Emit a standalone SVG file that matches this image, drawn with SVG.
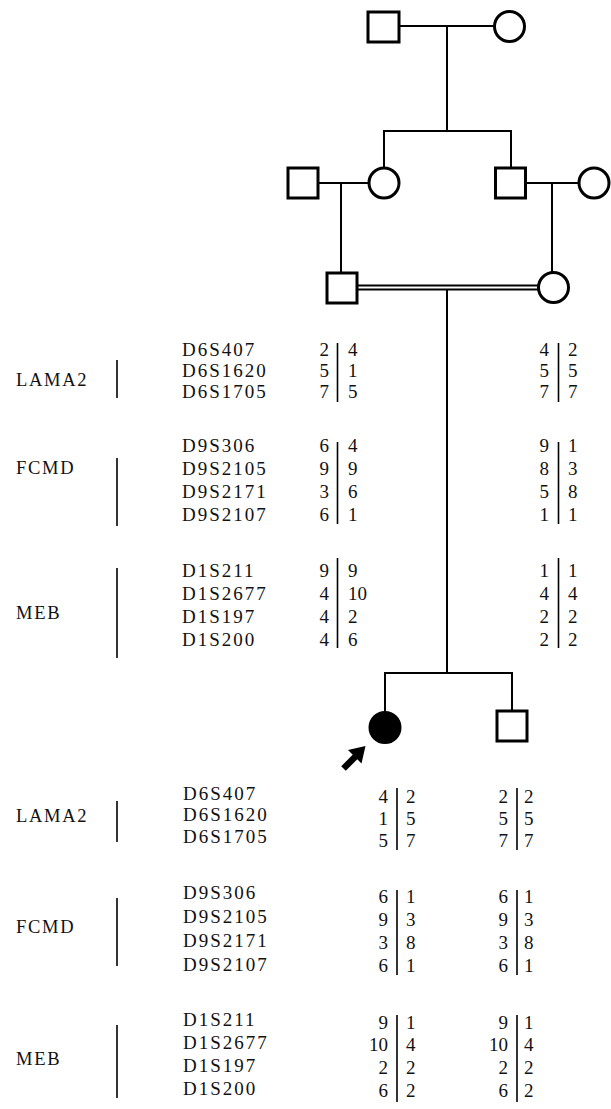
<svg xmlns="http://www.w3.org/2000/svg" width="611" height="1109" viewBox="0 0 611 1109">
<style>
.sym{fill:#fff;stroke:#000;stroke-width:3}
.aff{fill:#000;stroke:#000;stroke-width:2}
.ln{fill:none;stroke:#000;stroke-width:2}
.bar{fill:none;stroke:#000;stroke-width:1.6}
text{font-family:"Liberation Serif","Times New Roman",serif;font-size:19px;fill:#111}
.gene{font-size:18.5px;letter-spacing:1.7px}
.mk{letter-spacing:2px}
.l{text-anchor:end}
</style>
<g id="connectors">
<line class="ln" x1="399" y1="26" x2="494" y2="26"/>
<line class="ln" x1="447" y1="26" x2="447" y2="131"/>
<polyline class="ln" points="384,168 384,131 511,131 511,168"/>
<line class="ln" x1="318" y1="183" x2="368" y2="183"/>
<line class="ln" x1="341" y1="183" x2="341" y2="273"/>
<line class="ln" x1="525" y1="183" x2="579" y2="183"/>
<line class="ln" x1="552" y1="183" x2="552" y2="272"/>
<line class="ln" x1="357" y1="285.5" x2="539" y2="285.5"/>
<line class="ln" x1="357" y1="289.5" x2="539" y2="289.5"/>
<line class="ln" x1="447" y1="290" x2="447" y2="673"/>
<polyline class="ln" points="385,711 385,673 512,673 512,711"/>
</g>
<g id="gen1-father"><rect class="sym" x="368" y="12" width="31" height="30"/></g>
<g id="gen1-mother"><circle class="sym" cx="509.5" cy="26.5" r="15"/></g>
<g id="gen2-husband"><rect class="sym" x="288" y="168" width="30" height="30"/></g>
<g id="gen2-daughter"><circle class="sym" cx="384" cy="183" r="15"/></g>
<g id="gen2-son"><rect class="sym" x="495.5" y="168" width="30" height="30"/></g>
<g id="gen2-wife"><circle class="sym" cx="594" cy="183" r="15"/></g>
<g id="gen3-father"><rect class="sym" x="327" y="273" width="30" height="30"/></g>
<g id="gen3-mother"><circle class="sym" cx="553.5" cy="287.5" r="15"/></g>
<g id="proband"><circle class="aff" cx="385" cy="727.5" r="15.5"/>
<line x1="343.5" y1="768.5" x2="356" y2="756" stroke="#000" stroke-width="6.5"/>
<polygon points="365.5,746 348,750 361.5,763.5" fill="#000"/></g>
<g id="brother"><rect class="sym" x="497" y="711" width="30" height="30"/></g>

<g id="haplotypes-parents">
<text class="gene" x="16" y="386">LAMA2</text>
<line class="bar" x1="117" y1="360" x2="117" y2="398"/>
<text class="mk" x="182" y="356">D6S407</text>
<text class="mk" x="182" y="377">D6S1620</text>
<text class="mk" x="182" y="398">D6S1705</text>
<text class="gene" x="16" y="474">FCMD</text>
<line class="bar" x1="117" y1="458" x2="117" y2="526"/>
<text class="mk" x="182" y="452">D9S306</text>
<text class="mk" x="182" y="475">D9S2105</text>
<text class="mk" x="182" y="498">D9S2171</text>
<text class="mk" x="182" y="521">D9S2107</text>
<text class="gene" x="16" y="619">MEB</text>
<line class="bar" x1="117" y1="568" x2="117" y2="658"/>
<text class="mk" x="182" y="577">D1S211</text>
<text class="mk" x="182" y="600">D1S2677</text>
<text class="mk" x="182" y="623">D1S197</text>
<text class="mk" x="182" y="646">D1S200</text>

<line class="bar" x1="337.5" y1="343" x2="337.5" y2="402"/>
<line class="bar" x1="337.5" y1="442" x2="337.5" y2="524"/>
<line class="bar" x1="337.5" y1="558" x2="337.5" y2="648"/>
<text class="l" x="329" y="356">2</text><text x="348" y="356">4</text>
<text class="l" x="329" y="377">5</text><text x="348" y="377">1</text>
<text class="l" x="329" y="398">7</text><text x="348" y="398">5</text>
<text class="l" x="329" y="452">6</text><text x="348" y="452">4</text>
<text class="l" x="329" y="475">9</text><text x="348" y="475">9</text>
<text class="l" x="329" y="498">3</text><text x="348" y="498">6</text>
<text class="l" x="329" y="521">6</text><text x="348" y="521">1</text>
<text class="l" x="329" y="577">9</text><text x="348" y="577">9</text>
<text class="l" x="329" y="600">4</text><text x="348" y="600">10</text>
<text class="l" x="329" y="623">4</text><text x="348" y="623">2</text>
<text class="l" x="329" y="646">4</text><text x="348" y="646">6</text>

<line class="bar" x1="558.5" y1="343" x2="558.5" y2="402"/>
<line class="bar" x1="558.5" y1="442" x2="558.5" y2="524"/>
<line class="bar" x1="558.5" y1="558" x2="558.5" y2="648"/>
<text class="l" x="549" y="356">4</text><text x="568" y="356">2</text>
<text class="l" x="549" y="377">5</text><text x="568" y="377">5</text>
<text class="l" x="549" y="398">7</text><text x="568" y="398">7</text>
<text class="l" x="549" y="452">9</text><text x="568" y="452">1</text>
<text class="l" x="549" y="475">8</text><text x="568" y="475">3</text>
<text class="l" x="549" y="498">5</text><text x="568" y="498">8</text>
<text class="l" x="549" y="521">1</text><text x="568" y="521">1</text>
<text class="l" x="549" y="577">1</text><text x="568" y="577">1</text>
<text class="l" x="549" y="600">4</text><text x="568" y="600">4</text>
<text class="l" x="549" y="623">2</text><text x="568" y="623">2</text>
<text class="l" x="549" y="646">2</text><text x="568" y="646">2</text>
</g>

<g id="haplotypes-children">
<text class="gene" x="16" y="822">LAMA2</text>
<line class="bar" x1="117" y1="801" x2="117" y2="842"/>
<text class="mk" x="183" y="800">D6S407</text>
<text class="mk" x="183" y="821">D6S1620</text>
<text class="mk" x="183" y="843">D6S1705</text>
<text class="gene" x="16" y="933">FCMD</text>
<line class="bar" x1="117" y1="898" x2="117" y2="966"/>
<text class="mk" x="183" y="899">D9S306</text>
<text class="mk" x="183" y="923">D9S2105</text>
<text class="mk" x="183" y="947">D9S2171</text>
<text class="mk" x="183" y="971">D9S2107</text>
<text class="gene" x="16" y="1065">MEB</text>
<line class="bar" x1="117" y1="1025" x2="117" y2="1098"/>
<text class="mk" x="183" y="1026">D1S211</text>
<text class="mk" x="183" y="1049">D1S2677</text>
<text class="mk" x="183" y="1072">D1S197</text>
<text class="mk" x="183" y="1095">D1S200</text>

<line class="bar" x1="397" y1="788" x2="397" y2="850"/>
<line class="bar" x1="397" y1="890" x2="397" y2="975"/>
<line class="bar" x1="397" y1="1015" x2="397" y2="1102"/>
<text class="l" x="388" y="803">4</text><text x="406" y="803">2</text>
<text class="l" x="388" y="825">1</text><text x="406" y="825">5</text>
<text class="l" x="388" y="847">5</text><text x="406" y="847">7</text>
<text class="l" x="388" y="903">6</text><text x="406" y="903">1</text>
<text class="l" x="388" y="926">9</text><text x="406" y="926">3</text>
<text class="l" x="388" y="949">3</text><text x="406" y="949">8</text>
<text class="l" x="388" y="972">6</text><text x="406" y="972">1</text>
<text class="l" x="388" y="1029">9</text><text x="406" y="1029">1</text>
<text class="l" x="388" y="1051">10</text><text x="406" y="1051">4</text>
<text class="l" x="388" y="1074">2</text><text x="406" y="1074">2</text>
<text class="l" x="388" y="1097">6</text><text x="406" y="1097">2</text>

<line class="bar" x1="517" y1="788" x2="517" y2="850"/>
<line class="bar" x1="517" y1="890" x2="517" y2="975"/>
<line class="bar" x1="517" y1="1015" x2="517" y2="1102"/>
<text class="l" x="508" y="803">2</text><text x="524" y="803">2</text>
<text class="l" x="508" y="825">5</text><text x="524" y="825">5</text>
<text class="l" x="508" y="847">7</text><text x="524" y="847">7</text>
<text class="l" x="508" y="903">6</text><text x="524" y="903">1</text>
<text class="l" x="508" y="926">9</text><text x="524" y="926">3</text>
<text class="l" x="508" y="949">3</text><text x="524" y="949">8</text>
<text class="l" x="508" y="972">6</text><text x="524" y="972">1</text>
<text class="l" x="508" y="1029">9</text><text x="524" y="1029">1</text>
<text class="l" x="508" y="1051">10</text><text x="524" y="1051">4</text>
<text class="l" x="508" y="1074">2</text><text x="524" y="1074">2</text>
<text class="l" x="508" y="1097">6</text><text x="524" y="1097">2</text>
</g>
</svg>
